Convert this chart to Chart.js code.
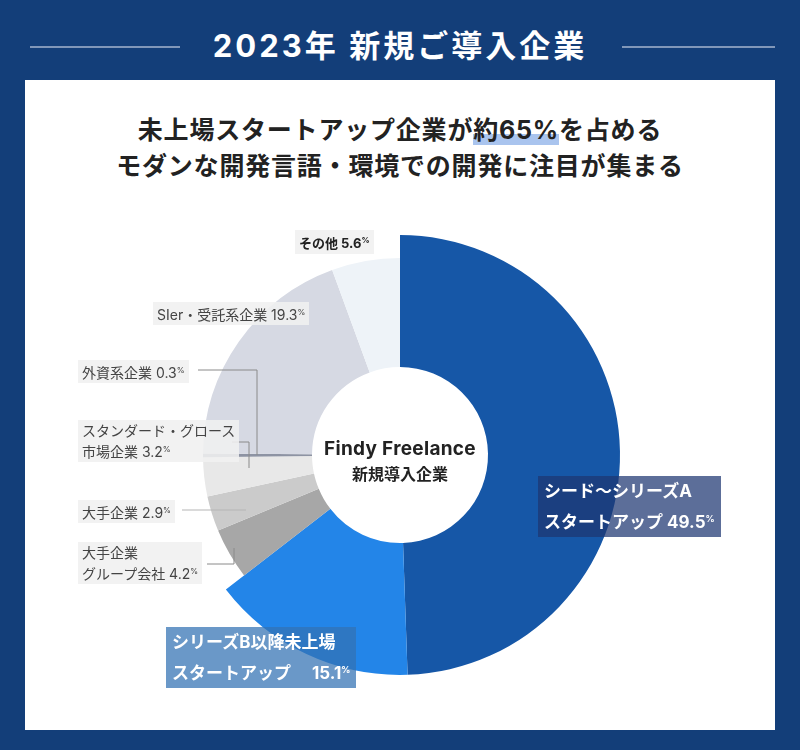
<!DOCTYPE html>
<html lang="ja">
<head>
<meta charset="utf-8">
<script src="https://cdn.jsdelivr.net/npm/chart.js@4.4.0/dist/chart.umd.min.js"></script>
<style>
body { margin: 0; background: #133e79; font-family: "Inter", "Noto Sans CJK JP", sans-serif; }
.page { position: relative; width: 800px; height: 750px; background: #133e79; overflow: hidden; }
.title { position: absolute; left: 0; top: 25px; width: 800px; text-align: center; color: #fff; font-size: 31px; font-weight: 700; line-height: 42px; letter-spacing: 3px; }
.rule { position: absolute; top: 46px; height: 2px; background: #8197b9; }
.panel { position: absolute; left: 25px; top: 80px; width: 750px; height: 650px; background: #fff; }
.sub { position: absolute; left: 0; width: 800px; text-align: center; color: #222; font-size: 25px; font-weight: 700; line-height: 34px; letter-spacing: 0.8px; }
.mark { background: linear-gradient(transparent 62%, #a9c4ee 62%); }
#chartWrap { position: absolute; left: 150px; top: 205px; width: 500px; height: 500px; }
.center { position: absolute; left: 290px; width: 220px; text-align: center; color: #222; font-weight: 700; }
.lbl { position: absolute; background: rgba(240,240,240,0.88); color: #444; font-size: 14px; line-height: 19px; padding: 1px 4px; white-space: nowrap; }
.lbl sup { font-size: 8px; vertical-align: 5px; }
.big { position: absolute; color: #fff; font-size: 17px; font-weight: 700; line-height: 28px; padding: 1px 6px; white-space: nowrap; }
.big sup { font-size: 9px; vertical-align: 6px; }
svg.lines { position: absolute; left: 0; top: 0; }
</style>
</head>
<body>
<div class="page">
  <div class="rule" style="left:30px;width:150px"></div>
  <div class="rule" style="left:622px;width:153px"></div>
  <div class="title">2023年 新規ご導入企業</div>
  <div class="panel"></div>
  <div class="sub" style="top:113px">未上場スタートアップ企業が<span class="mark">約65%</span>を占める</div>
  <div class="sub" style="top:149px">モダンな開発言語・環境での開発に注目が集まる</div>

  <div id="chartWrap"><canvas id="pie" width="500" height="500"></canvas></div>

  <svg class="lines" width="800" height="750">
    <polyline points="198,370 257,370 257,455" fill="none" stroke="#8a8a8a" stroke-width="1"/>
    <polyline points="232,442 249,442 249,468" fill="none" stroke="#8a8a8a" stroke-width="1"/>
    <polyline points="182,510 246,510" fill="none" stroke="#b5b5b5" stroke-width="1"/>
    <polyline points="207,564 234,564 234,548" fill="none" stroke="#8a8a8a" stroke-width="1"/>
  </svg>

  <div class="center" style="top:437px;font-size:19px;line-height:24px;letter-spacing:0.3px">Findy Freelance</div>
  <div class="center" style="top:463px;font-size:16px;line-height:22px">新規導入企業</div>

  <div id="labels"></div>
</div>

<script>
// data
const categories = ['シード〜シリーズA スタートアップ', 'シリーズB以降未上場 スタートアップ', '大手企業 グループ会社', '大手企業', 'スタンダード・グロース 市場企業', '外資系企業', 'SIer・受託系企業', 'その他'];
const shares = [49.5, 15.1, 4.2, 2.9, 3.2, 0.3, 19.3, 5.6];
const labelLines = [
  ['シード〜シリーズA', 'スタートアップ '],
  ['シリーズB以降未上場', 'スタートアップ　 '],
  ['大手企業', 'グループ会社 '],
  ['大手企業 '],
  ['スタンダード・グロース', '市場企業 '],
  ['外資系企業 '],
  ['SIer・受託系企業 '],
  ['その他 ']
];

const colors = ['#1657a7', '#2385e8', '#a7a7a7', '#cbcbcb', '#e8e8e8', '#8d93a3', '#d6d9e3', '#eef3f8'];
const boxPos = [
  { cls: 'big', left: 538, top: 476, bg: 'rgba(29,54,113,0.72)' },
  { cls: 'big', left: 166, top: 627, bg: 'rgba(51,114,180,0.73)' },
  { cls: 'lbl', left: 78, top: 542 },
  { cls: 'lbl', left: 78, top: 500 },
  { cls: 'lbl', left: 78, top: 420 },
  { cls: 'lbl', left: 78, top: 360 },
  { cls: 'lbl', left: 153, top: 302 },
  { cls: 'lbl', left: 295, top: 230 }
];

const labelsEl = document.getElementById('labels');
shares.forEach((v, i) => {
  const p = boxPos[i];
  const lines = labelLines[i].slice();
  lines[lines.length - 1] += v.toFixed(1) + '<sup>%</sup>';
  const d = document.createElement('div');
  d.className = p.cls;
  d.style.left = p.left + 'px';
  d.style.top = p.top + 'px';
  if (p.bg) d.style.background = p.bg;
  if (i === 7) { d.style.color = '#222'; d.style.fontWeight = '700'; d.style.fontSize = '13px'; }
  d.innerHTML = lines.join('<br>');
  labelsEl.appendChild(d);
});

// grey slices are drawn with a smaller outer radius than the blue ones
const shrinkGrey = {
  id: 'shrinkGrey',
  afterDatasetsUpdate(chart) {
    const meta = chart.getDatasetMeta(0);
    meta.data.forEach((arc, i) => {
      if (i >= 2) arc.outerRadius = 197;
    });
  }
};

new Chart(document.getElementById('pie'), {
  type: 'doughnut',
  data: {
    labels: categories,
    datasets: [{
      data: shares,
      backgroundColor: colors,
      borderWidth: 0,
      radius: 220,
      cutout: 100
    }]
  },
  options: {
    responsive: false,
    animation: false,
    plugins: { legend: { display: false }, tooltip: { enabled: false } }
  },
  plugins: [shrinkGrey]
});
</script>
</body>
</html>
